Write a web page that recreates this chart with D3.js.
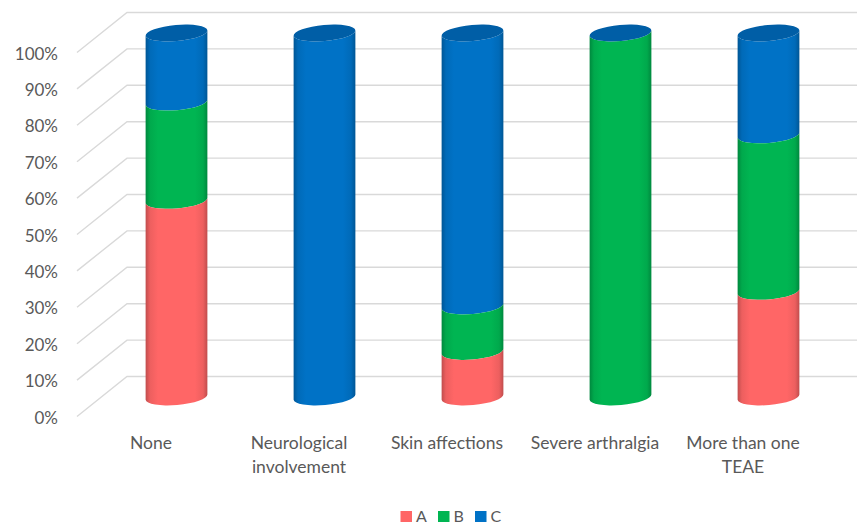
<!DOCTYPE html>
<html>
<head>
<meta charset="utf-8">
<script src="https://cdn.jsdelivr.net/npm/d3@7"></script>
<style>
html,body{margin:0;padding:0;background:#fff}
svg{display:block}
text{font-family:Lato,sans-serif;fill:#595959}
</style>
</head>
<body>
<svg id="chart" width="857" height="528"></svg>
<script>
// Stacked cylinders, one per adverse-event category
const categories = ["None", "Neurological|involvement", "Skin affections", "Severe arthralgia", "More than one|TEAE"];
const seriesNames = ["A", "B", "C"];
const seriesA = [54, 0, 12.5, 0, 29];
const seriesB = [27, 0, 12.5, 100, 43];
const seriesC = [19, 100, 75, 0, 28];
const tickValues = [0, 10, 20, 30, 40, 50, 60, 70, 80, 90, 100];
const seriesColors = ["#ff6666", "#00b552", "#0072c6"];
const lidColor = "#005ea6";

const svg = d3.select("#chart");
const defs = svg.append("defs");

// Front plane of the 3D box and its shift to the back wall
const yFront = d3.scaleLinear().domain([0, 100]).range([416.5, 52.5]);
const xBand = d3.scaleBand().domain(categories).range([77, 817]);
const depthX = 50, depthY = -40;
// Cylinder axis sits part way into the depth of the box
const cylDX = 25.5, cylDY = -19.5;
const cylR = 31, lidRy = 8, tilt = -5;
const labelSize = 17.5;

// Gridlines: diagonal on the floor side, then across the back wall
const grid = svg.append("g").attr("fill", "none").attr("stroke", "#d9d9d9").attr("stroke-width", 1.4);
grid.selectAll("path").data(tickValues).join("path")
  .attr("d", d => {
    const p = d3.path();
    p.moveTo(77, yFront(d));
    p.lineTo(77 + depthX, yFront(d) + depthY);
    p.lineTo(857, yFront(d) + depthY);
    return p.toString();
  });

// Y axis labels
svg.append("g").selectAll("text").data(tickValues).join("text")
  .attr("x", 58).attr("y", d => yFront(d) + 7)
  .attr("text-anchor", "end").attr("font-size", 17)
  .text(d => d + "%");

// Horizontal shading for each colour, darker towards the cylinder edges
seriesColors.forEach((c, i) => {
  const g = defs.append("linearGradient").attr("id", "shade" + i);
  const dark = d3.color(c).darker(0.8);
  const soft = d3.color(c).darker(0.2);
  [[0, dark], [7, soft], [20, c], [80, c], [93, soft], [100, dark]].forEach(([o, col]) => {
    g.append("stop").attr("offset", o + "%").attr("stop-color", col);
  });
});

// One segment: the side wall between two values, with elliptical lower and upper edges
function segmentPath(cx, y0, y1) {
  const t = tilt;
  const ang = t * Math.PI / 180;
  const dx = cylR * Math.cos(ang), dy = cylR * Math.sin(ang);
  return `M${cx - dx},${y0 - dy}` +
    `A${cylR},${lidRy} ${t} 0 0 ${cx + dx},${y0 + dy}` +
    `L${cx + dx},${y1 + dy}` +
    `A${cylR},${lidRy} ${t} 0 1 ${cx - dx},${y1 - dy}Z`;
}

const rows = categories.map((c, i) => ({ c, v: [seriesA[i], seriesB[i], seriesC[i]] }));
const cyl = svg.append("g").selectAll("g").data(rows).join("g")
  .attr("transform", d => `translate(${xBand(d.c) + xBand.bandwidth() / 2 + cylDX},${cylDY})`);

cyl.each(function (d) {
  const g = d3.select(this);
  let acc = 0;
  const segs = d.v.map((v, i) => {
    const s = { i, from: acc, to: acc + v };
    acc += v;
    return s;
  }).filter(s => s.to > s.from);
  // Upper segments first so each lower one overlaps the edge above it
  g.selectAll("path.seg").data(segs.slice().reverse()).join("path")
    .attr("class", "seg")
    .attr("fill", s => `url(#shade${s.i})`)
    .attr("d", s => segmentPath(0, yFront(s.from), yFront(s.to)));
  // Lid of the stack
  g.append("ellipse")
    .attr("cx", 0).attr("cy", yFront(100))
    .attr("rx", cylR).attr("ry", lidRy)
    .attr("transform", `rotate(${tilt} 0 ${yFront(100)})`)
    .attr("fill", lidColor);
});

// Category labels, wrapped on two lines where needed
const catLabels = svg.append("g").selectAll("text").data(categories).join("text")
  .attr("text-anchor", "middle").attr("font-size", labelSize)
  .attr("transform", d => `translate(${xBand(d) + xBand.bandwidth() / 2},449)`);
catLabels.selectAll("tspan").data(d => d.split("|")).join("tspan")
  .attr("x", 0).attr("dy", (d, i) => i ? 23.5 : 0).text(d => d);

// Legend
const legendX = d3.scaleOrdinal().domain(seriesNames).range([400.5, 438, 475]);
const legend = svg.append("g").selectAll("g").data(seriesNames).join("g")
  .attr("transform", d => `translate(${legendX(d)},511)`);
legend.append("rect").attr("width", 11.5).attr("height", 11)
  .attr("fill", (d, i) => seriesColors[i]);
legend.append("text").attr("x", 15.5).attr("y", 11).attr("font-size", 16).text(d => d);
</script>
</body>
</html>
